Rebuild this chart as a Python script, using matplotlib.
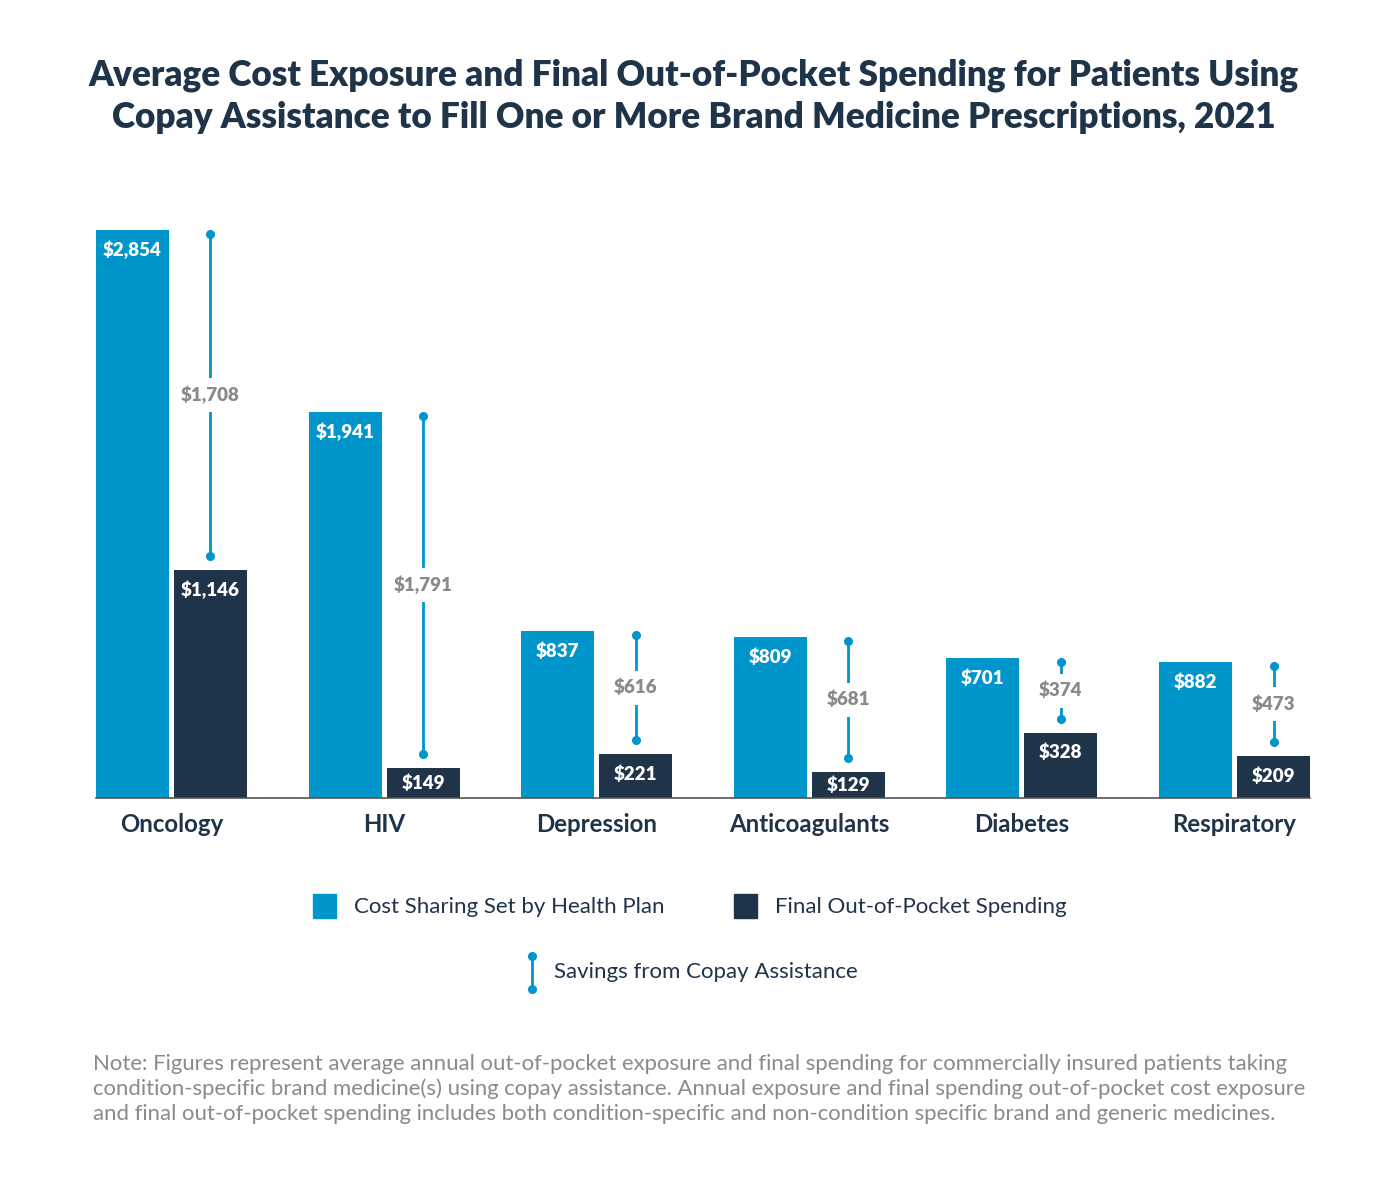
import numpy as np
import matplotlib
matplotlib.use('Agg')
import matplotlib.pyplot as plt
from matplotlib.patches import Rectangle
from matplotlib.lines import Line2D

plt.rcParams['font.family'] = ['Lato', 'DejaVu Sans']

# datos
categorias = ['Oncology', 'HIV', 'Depression', 'Anticoagulants', 'Diabetes', 'Respiratory']
coste_plan = [2854, 1941, 837, 809, 701, 682]
gasto_final = [1146, 149, 221, 129, 328, 209]
ahorro = [1708, 1791, 616, 681, 374, 473]
etiquetas_plan = ['$2,854', '$1,941', '$837', '$809', '$701', '$882']
etiquetas_final = ['$1,146', '$149', '$221', '$129', '$328', '$209']
etiquetas_ahorro = ['$1,708', '$1,791', '$616', '$681', '$374', '$473']

AZUL = '#0096cc'
OSCURO = '#1f3349'
GRIS = '#8a8a8a'

W, H = 1388, 1182
fig = plt.figure(figsize=(W / 100, H / 100), dpi=100)

# ejes: base en y=798 px, barras de x=96 a x=1310
ymax = 2854 * 578 / 568
ax = fig.add_axes([96 / W, (H - 798) / H, (1310 - 96) / W, (798 - 220) / H])
k = ymax / 578  # unidades por pixel

x = np.arange(len(categorias))
ancho = 0.343
desp = 0.1834
ax.bar(x - desp, coste_plan, width=ancho, color=AZUL, zorder=2)
ax.bar(x + desp, gasto_final, width=ancho, color=OSCURO, zorder=2)

for i in range(len(categorias)):
    c, f = coste_plan[i], gasto_final[i]
    ax.text(x[i] - desp, c - min(20 * k, c / 2), etiquetas_plan[i], color='white',
            fontsize=13.5, fontweight='heavy', ha='center', va='center', zorder=3)
    ax.text(x[i] + desp, f - min(20 * k, f / 2), etiquetas_final[i], color='white',
            fontsize=13.5, fontweight='heavy', ha='center', va='center', zorder=3)
    # linea de ahorro
    y_sup = c - 4 * k
    y_inf = f + 14 * k
    ax.plot([x[i] + desp] * 2, [y_inf, y_sup], color=AZUL, lw=2, zorder=2,
            marker='o', markersize=5.5)
    ax.text(x[i] + desp, (y_sup + y_inf) / 2, etiquetas_ahorro[i], color=GRIS,
            fontsize=13.5, fontweight='heavy', ha='center', va='center', zorder=3,
            bbox=dict(facecolor='white', edgecolor='none', pad=6))

ax.set_xlim(-0.355, len(categorias) - 1 + 0.355)
ax.set_ylim(0, ymax)
ax.set_xticks(x)
ax.set_xticklabels(categorias, fontsize=17.3, fontweight='bold', color=OSCURO)
ax.tick_params(axis='x', length=0, pad=11)
ax.set_yticks([])
for s in ['top', 'left', 'right']:
    ax.spines[s].set_visible(False)
ax.spines['bottom'].set_color('#555555')
ax.spines['bottom'].set_linewidth(1.2)

# titulo
fig.text(0.5, 1 - 96 / H, 'Average Cost Exposure and Final Out-of-Pocket Spending for Patients Using\n'
         'Copay Assistance to Fill One or More Brand Medicine Prescriptions, 2021',
         ha='center', va='center', fontsize=25.3, fontweight='heavy', color=OSCURO,
         linespacing=1.32)

# leyenda manual
def px(xp, yp):
    return xp / W, 1 - yp / H

fig.add_artist(Rectangle(px(313, 918), 23 / W, 24 / H, color=AZUL, transform=fig.transFigure))
fig.text(*px(354, 907), 'Cost Sharing Set by Health Plan', fontsize=16, color=OSCURO, va='center')
fig.add_artist(Rectangle(px(734, 918), 23 / W, 24 / H, color=OSCURO, transform=fig.transFigure))
fig.text(*px(775, 907), 'Final Out-of-Pocket Spending', fontsize=16, color=OSCURO, va='center')
x0, ya = px(532, 956)
_, yb = px(532, 989)
fig.add_artist(Line2D([x0, x0], [yb, ya], color=AZUL, lw=2, marker='o', markersize=5.5,
                      transform=fig.transFigure))
fig.text(*px(554, 972), 'Savings from Copay Assistance', fontsize=16, color=OSCURO, va='center')

# nota
nota = ('Note: Figures represent average annual out-of-pocket exposure and final spending for commercially insured patients taking\n'
        'condition-specific brand medicine(s) using copay assistance. Annual exposure and final spending out-of-pocket cost exposure\n'
        'and final out-of-pocket spending includes both condition-specific and non-condition specific brand and generic medicines.')
fig.text(*px(93, 1089), nota, fontsize=15.9, color=GRIS, va='center', linespacing=1.28)

fig.savefig('out.png', dpi=100, facecolor='white')
